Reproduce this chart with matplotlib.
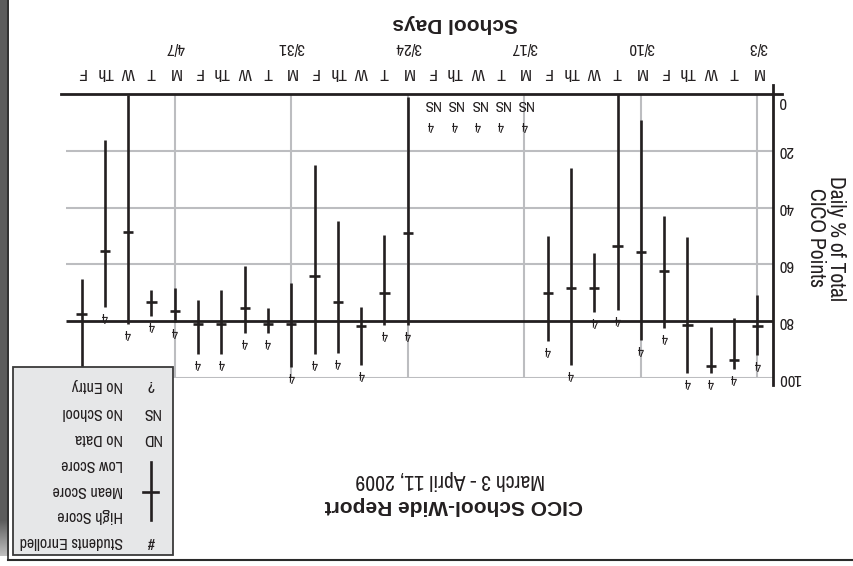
import matplotlib
matplotlib.use("Agg")
import matplotlib.pyplot as plt
import numpy as np
from matplotlib.patches import Rectangle
from matplotlib.lines import Line2D
from matplotlib.transforms import blended_transform_factory

plt.rcParams['font.family'] = ['Archivo Narrow', 'DejaVu Sans']

# ---- data -------------------------------------------------------------
day_labels = ['M', 'T', 'W', 'Th', 'F'] * 6
week_labels = ['3/3', '3/10', '3/17', '3/24', '3/31', '4/7']
status = ['ok'] * 10 + ['NS'] * 5 + ['ok'] * 15
enrolled = [4] * 30
low_score = [70.9, 79.0, 82.2, 50.2, 43.0, 9.0, 0.0, 56.0, 26.1, 50.0,
             None, None, None, None, None,
             1.0, 49.5, 74.9, 44.6, 25.0, 66.7, 75.3, 60.4, 68.9, 72.7,
             68.4, 68.9, 0.3, 16.2, 65.2]
high_score = [91.9, 96.9, 98.4, 98.2, 82.5, 86.6, 76.1, 76.7, 95.3, 87.0,
              None, None, None, None, None,
              81.5, 81.2, 95.3, 91.2, 91.5, 96.1, 84.1, 84.1, 91.5, 91.5,
              80.4, 78.3, 81.0, 74.9, 100.0]
mean_score = [81.7, 93.8, 95.9, 81.4, 62.4, 55.8, 53.5, 68.2, 68.2, 70.2,
              None, None, None, None, None,
              48.9, 70.2, 81.7, 73.1, 64.0, 81.0, 81.0, 75.5, 81.0, 81.0,
              76.4, 73.1, 48.6, 55.4, 77.3]
y_ticks = [0, 20, 40, 60, 80, 100]
goal_line = 80

legend_rows = [('?', 'No Entry'), ('NS', 'No School'), ('ND', 'No Data'),
               (None, 'Low Score'), (None, 'Mean Score'), (None, 'High Score'),
               ('#', 'Students Enrolled')]

# ---- figure -----------------------------------------------------------
W, H = 854, 566
fig = plt.figure(figsize=(W / 100, H / 100), dpi=100)
fig.patch.set_facecolor('white')

def fx(px):
    return px / W

def fy(py):
    return 1 - py / H

INK = '#231f20'
GRID = '#bcbdc0'
BOLD = ['Liberation Sans', 'DejaVu Sans']

# legend panel position (pixels from top-left)
LEG_L, LEG_R, LEG_T, LEG_B = 13, 173, 367, 555

ax = fig.add_axes([fx(61), fy(378), (773 - 61) / W, (378 - 94) / H])
ax.set_facecolor('none')
ax.set_xlim(29.88, -0.67)
ax.set_ylim(100, 0)
for s in ax.spines.values():
    s.set_visible(False)

days = np.arange(len(day_labels))
x_grid_start = 29.66

# grid
for v in y_ticks:
    if v == 0 or v == goal_line:
        continue
    ax.hlines(v, x_grid_start, -0.67, color=GRID, lw=1.5, zorder=1)
for d in days[::5]:
    ax.vlines(d, 0, 100, color=GRID, lw=1.5, zorder=1)
ax.hlines(goal_line, x_grid_start, -0.67, color=INK, lw=2.0, zorder=2)

# frame lines of the plot
ax.plot([29.88, -1.05], [0, 0], color=INK, lw=2.0, clip_on=False, zorder=4)
ax.plot([-0.67, -0.67], [-3.2, 102.5], color=INK, lw=2.0, clip_on=False, zorder=4)

# score ranges
label_off = 9
for d in days:
    if status[d] == 'NS':
        ax.annotate('NS', (d, 0), xytext=(0, -10), textcoords='offset pixels',
                    ha='center', va='center', rotation=180, fontsize=11, color=INK)
        ax.annotate(str(enrolled[d]), (d, 0), xytext=(0, -31), textcoords='offset pixels',
                    ha='center', va='center', rotation=180, fontsize=10, color=INK)
        continue
    ax.vlines(d, low_score[d], high_score[d], color=INK, lw=1.9, zorder=3)
    ax.hlines(mean_score[d], d - 0.22, d + 0.22, color=INK, lw=1.9, zorder=3)
    # enrolment count just past the high end, unless the legend panel covers it
    px, py = ax.transData.transform((d, high_score[d]))
    lx, ly = px, H - (py - label_off)
    if LEG_L <= lx <= LEG_R and LEG_T <= ly <= LEG_B:
        continue
    ax.annotate(str(enrolled[d]), (d, high_score[d]), xytext=(0, -label_off),
                textcoords='offset pixels', ha='center', va='center',
                rotation=180, fontsize=10, color=INK, zorder=3)

# axis tick labels
ax.xaxis.tick_top()
ax.set_xticks(days)
ax.set_xticklabels(day_labels, rotation=180, fontsize=12.5, color=INK)
ax.tick_params(axis='x', length=0, pad=10)
ax.yaxis.tick_right()
ax.set_yticks(y_ticks)
ax.set_yticklabels([str(v) for v in y_ticks], rotation=180, fontsize=12,
                   color=INK, va='center')
ax.tick_params(axis='y', length=0, pad=4)
ax.get_yticklabels()[0].set_va('top')

trans = blended_transform_factory(ax.transData, ax.transAxes)
for i, lbl in enumerate(week_labels):
    ax.text(5 * i, (378 - 47) / 284, lbl, transform=trans, ha='center', va='center',
            rotation=180, fontsize=12, color=INK)

# titles
fig.text(fx(455), fy(24), 'School Days', ha='center', va='center', rotation=180,
         fontsize=15, fontweight='bold', family=BOLD, color=INK)
fig.text(fx(826), fy(238), 'Daily % of Total\nCICO Points', ha='center', va='center',
         rotation=270, fontsize=15.5, color=INK, linespacing=1.0, multialignment='center')
fig.text(fx(454), fy(506), 'CICO School-Wide Report', ha='center', va='center',
         rotation=180, fontsize=15, fontweight='bold', family=BOLD, color=INK)
fig.text(fx(450), fy(480), 'March 3 - April 11, 2009', ha='center', va='center',
         rotation=180, fontsize=15.5, color=INK)

# legend box
fig.add_artist(Rectangle((fx(LEG_L), fy(LEG_B)), (LEG_R - LEG_L) / W, (LEG_B - LEG_T) / H,
                         transform=fig.transFigure, facecolor='#e6e7e8',
                         edgecolor='#3a3a3a', lw=1.3, zorder=5))
row_y = [385, 412.5, 439, 465, 490, 515, 541.5]
for (sym, txt), py in zip(legend_rows, row_y):
    if sym is not None:
        fig.text(fx(151), fy(py), sym, ha='center', va='center', rotation=180,
                 fontsize=11.5, color=INK, zorder=6)
    fig.text(fx(123), fy(py), txt, ha='right', va='center', rotation=180,
             fontsize=11.5, color=INK, zorder=6)
fig.add_artist(Line2D([fx(150.7), fx(150.7)], [fy(461.5), fy(520)],
                      transform=fig.transFigure, color=INK, lw=1.9, zorder=6))
fig.add_artist(Line2D([fx(143), fx(158)], [fy(491.5), fy(491.5)],
                      transform=fig.transFigure, color=INK, lw=1.9, zorder=6))

# page edge and border
edge_ax = fig.add_axes([0, 0, fx(9), 1])
edge_ax.axis('off')
shade = np.ones((H, 1)) * 0.36
shade[520:556, 0] = np.linspace(0.36, 0.75, 36)
shade[556:, 0] = 1.0
edge_ax.imshow(shade, cmap='gray', vmin=0, vmax=1, aspect='auto',
               interpolation='bilinear', extent=(0, 1, H, 0))
edge_ax.set_xlim(0, 1)
edge_ax.set_ylim(H, 0)
fig.add_artist(Line2D([fx(8), fx(8)], [fy(0), fy(560)], transform=fig.transFigure,
                      color='#2a2a2a', lw=1.2, zorder=6))
fig.add_artist(Line2D([fx(8), fx(854)], [fy(560), fy(560)], transform=fig.transFigure,
                      color='#2a2a2a', lw=1.5, zorder=6))

fig.savefig('out.png', dpi=100, facecolor='white')
